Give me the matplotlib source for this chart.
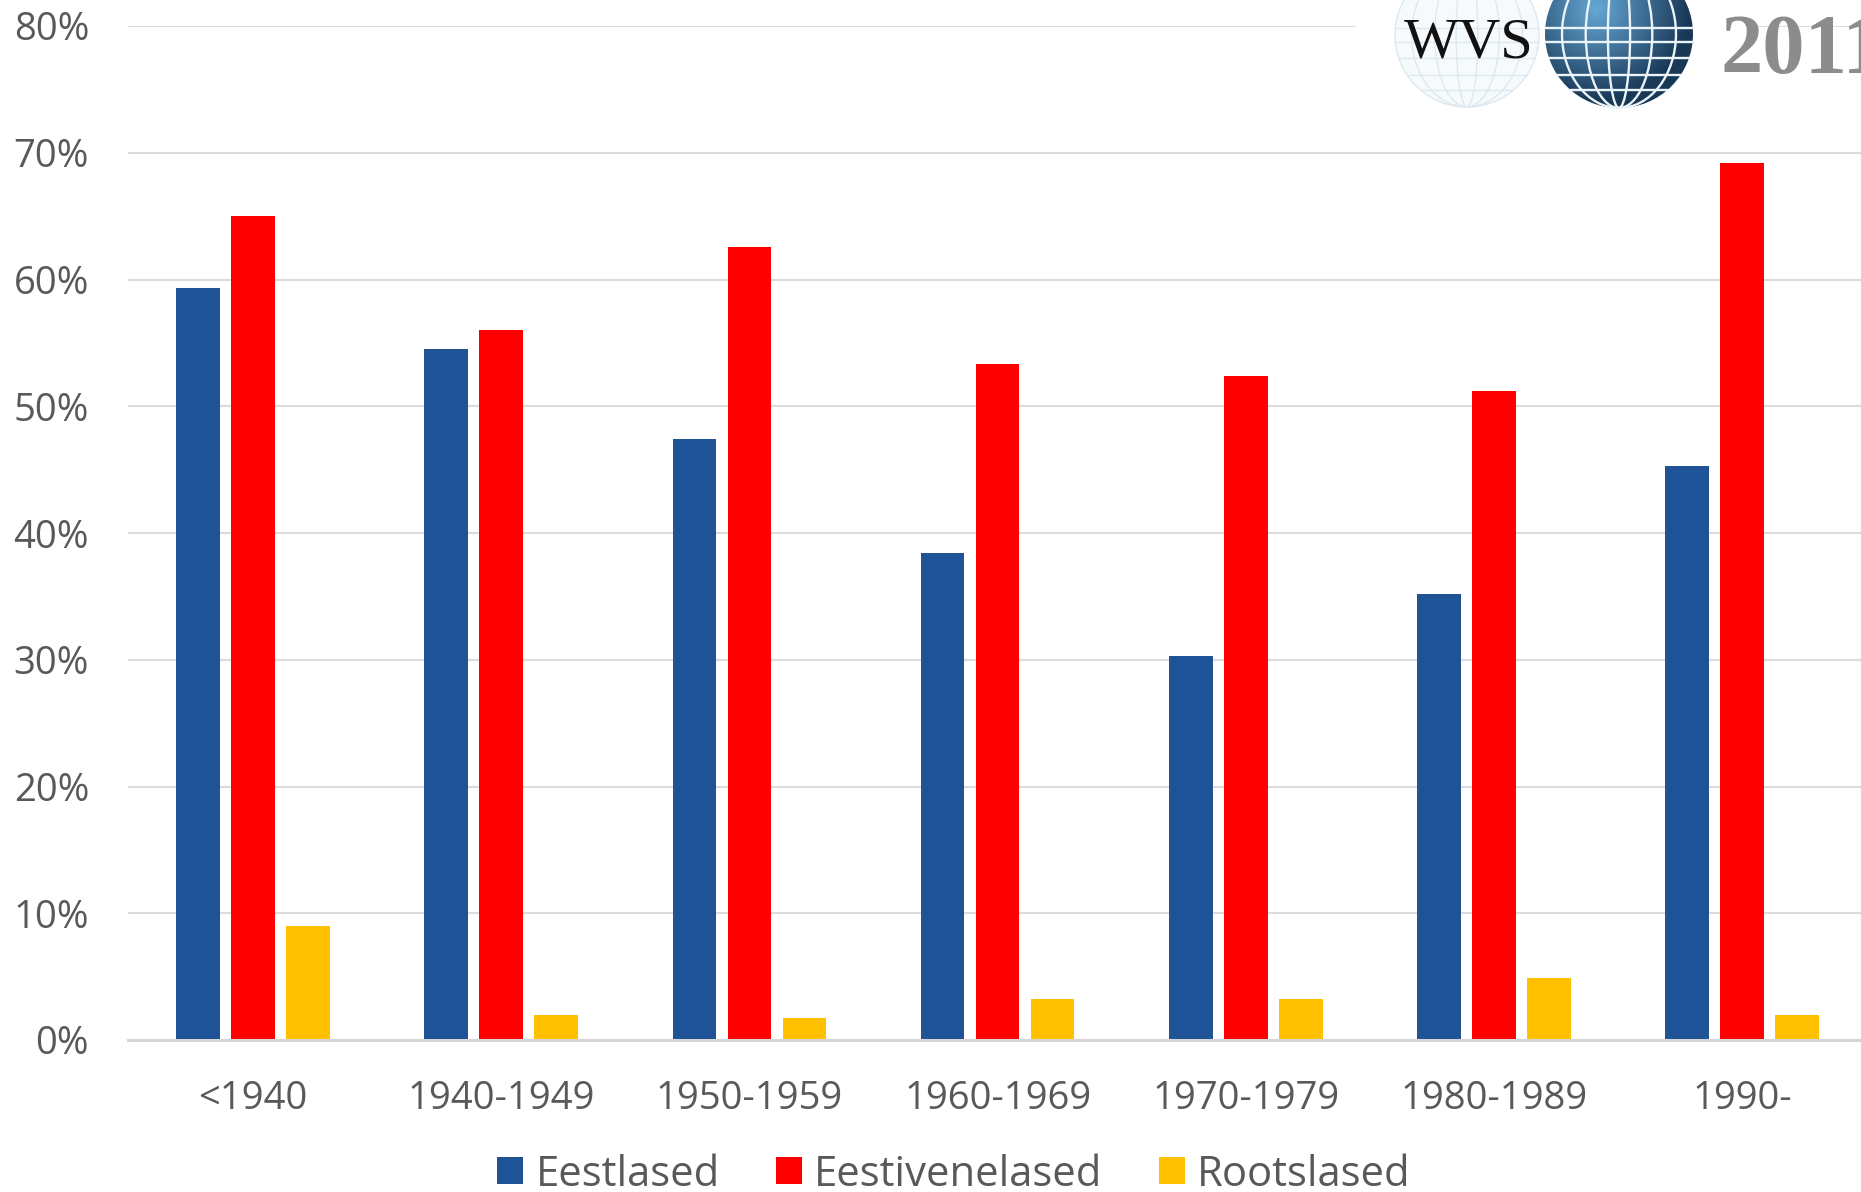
import numpy as np
import matplotlib
matplotlib.use("Agg")
import matplotlib.pyplot as plt
from matplotlib.patches import Circle, Ellipse

plt.rcParams['font.family'] = ['Open Sans', 'DejaVu Sans']

categories = ['<1940', '1940-1949', '1950-1959', '1960-1969', '1970-1979', '1980-1989', '1990-']
eestlased = [59.3, 54.5, 47.4, 38.4, 30.3, 35.2, 45.3]
eestivenelased = [65.0, 56.0, 62.6, 53.3, 52.4, 51.2, 69.2]
rootslased = [9.0, 2.0, 1.7, 3.2, 3.2, 4.9, 2.0]
yticks = [0, 10, 20, 30, 40, 50, 60, 70, 80]

W, H = 1861, 1192
fig = plt.figure(figsize=(W/100, H/100), dpi=100)
# axes box in pixels: x 128..1861, 0% at y=1040, 80% at y=26
top = 26
bot = 1040
ax = fig.add_axes([128/W, 1-bot/H, (W-128)/W, (bot-top)/H])
ax.set_ylim(0, 80)
# one category is 248.2 px wide, first centre at 253 px
ax.set_xlim((128-253)/248.2, (1861-253)/248.2)

x = np.arange(len(categories))
w = 43.5/248.2
step = 55/248.2
ax.bar(x-step, eestlased, w, color='#1F5296', label='Eestlased', zorder=2)
ax.bar(x, eestivenelased, w, color='#FF0000', label='Eestivenelased', zorder=2)
ax.bar(x+step, rootslased, w, color='#FFC000', label='Rootslased', zorder=2)

ax.set_yticks(yticks)
ax.set_yticklabels([f'{v}%' for v in yticks], fontsize=27.5, color='#595959')
ax.set_xticks(x)
ax.set_xticklabels(categories, fontsize=27.5, color='#595959')
ax.tick_params(length=0)
ax.tick_params(axis='y', pad=28)
ax.tick_params(axis='x', pad=29)
ax.grid(axis='y', color='#DCDCDC', lw=1.5)
ax.set_axisbelow(True)
for s in ['top', 'right', 'left']:
    ax.spines[s].set_visible(False)
ax.spines['bottom'].set_color('#D6D6D6')
ax.spines['bottom'].set_linewidth(2.2)

ax.legend(loc='lower center', bbox_to_anchor=(954/W, -0.003), bbox_transform=fig.transFigure,
          ncol=3, frameon=False, fontsize=30.1, labelcolor='#595959',
          handlelength=0.62, handleheight=0.62, handletextpad=0.29, columnspacing=1.35,
          borderpad=0, borderaxespad=0)

# WVS logo pasted over the top right corner
ov = fig.add_axes([0, 0, 1, 1])
ov.set_xlim(0, W)
ov.set_ylim(H, 0)
ov.axis('off')
ov.patch.set_alpha(0)
ov.add_patch(plt.Rectangle((1356, 0), 1750-1356, 125, color='white', zorder=1))

# pale globe
cx, cy, r = 1467, 35, 72
ov.add_patch(Circle((cx, cy), r, fc='#F6FAFC', ec='#DDE9EF', lw=1, zorder=2))
for f in [0.15, 0.45, 0.77]:
    ov.add_patch(Ellipse((cx, cy), 2*r*f, 2*r, fc='none', ec='#DDE9EF', lw=1, zorder=3))
for ly in [28, 42, 58, 75, 90]:
    half = np.sqrt(r**2-(ly-cy)**2)
    ov.plot([cx-half, cx+half], [ly, ly], color='#DDE9EF', lw=1, zorder=3)

# blue globe, lit from the upper left
cx, cy, r = 1619, 34, 74
yy, xx = np.mgrid[-1:1:200j, -1:1:200j]
dist = np.clip(np.hypot(xx+0.3, yy+0.35)/1.25, 0, 1)
light = np.array([0.40, 0.66, 0.84])
dark = np.array([0.10, 0.22, 0.34])
shade = light[None, None, :]*(1-dist[..., None]) + dark[None, None, :]*dist[..., None]
globe = ov.imshow(shade, extent=(cx-r, cx+r, cy+r, cy-r), zorder=2, aspect='auto')
globe.set_clip_path(Circle((cx, cy), r, transform=ov.transData))
ov.set_xlim(0, W)
ov.set_ylim(H, 0)
for f in [0.15, 0.45, 0.77]:
    ov.add_patch(Ellipse((cx, cy), 2*r*f, 2*r, fc='none', ec='#EAF3F8', lw=1.7, zorder=3))
for ly in [28, 42, 58, 75, 90]:
    half = np.sqrt(r**2-(ly-cy)**2)
    ov.plot([cx-half, cx+half], [ly, ly], color='#EAF3F8', lw=1.7, zorder=3)

ov.text(1469, 43, 'WVS', family='Liberation Serif', fontsize=42, color='#111111', ha='center', va='center', zorder=4)
ov.text(1720, 53, '2011', family='Liberation Serif', fontsize=61, fontweight='bold', color='#8C8C8C',
        ha='left', va='center', zorder=4)

fig.savefig('out.png', dpi=100)
